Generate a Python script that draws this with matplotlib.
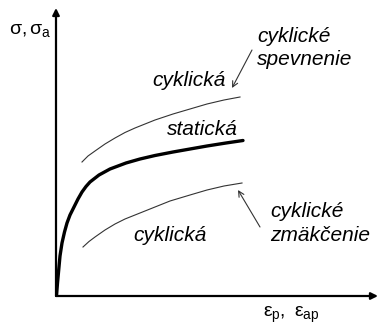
import matplotlib
matplotlib.use("Agg")
import matplotlib.pyplot as plt

plt.rcParams['font.family'] = ['Liberation Sans', 'DejaVu Sans']
plt.rcParams['mathtext.fontset'] = 'custom'
plt.rcParams['mathtext.rm'] = 'Liberation Sans'
plt.rcParams['mathtext.it'] = 'Liberation Sans:italic'

#### data (arbitrary units)
static_x = [0.5, 1.5, 2.7, 4, 6, 8.5, 11, 14, 18, 22, 26, 30, 34, 43, 54, 70, 84, 99, 117, 134, 151, 170, 187]
static_y = [0, 13, 26, 40, 53, 64, 73, 81, 89, 97, 104, 109.5, 114, 121, 127, 133, 137, 140.5, 144, 147, 150, 153, 155.5]

hard_x = [26, 32, 39, 49, 59, 69, 79, 89, 99, 108, 117, 134, 151, 168, 184]
hard_y = [134, 140, 145, 152, 158, 163.5, 168, 172, 176, 179, 182, 187, 192, 196, 199]

soft_x = [27, 33, 39, 49, 59, 69, 79, 89, 99, 114, 134, 151, 168, 186]
soft_y = [49, 54.5, 59, 66, 72, 77, 81, 85, 89, 95, 101, 106, 110, 113]

curve_labels = ["cyklická", "statická", "cyklická"]
hard_note = ["cyklické", "spevnenie"]
soft_note = ["cyklické", "zmäkčenie"]
y_label = r"$\mathrm{\sigma,\sigma_a}$"
x_label = r"$\mathrm{\varepsilon_p,\ \varepsilon_{ap}}$"

####
fig = plt.figure(figsize=(3.79, 3.27), dpi=100)
ax = fig.add_axes([56 / 379, 31 / 327, 323 / 379, 296 / 327])
ax.set_xlim(0, 323)
ax.set_ylim(0, 296)
ax.axis('off')

# axes with arrows
ax.annotate("", xy=(0, 288), xytext=(0, 0),
            arrowprops=dict(arrowstyle="-|>", lw=1.6, color="black",
                            mutation_scale=10, shrinkA=0, shrinkB=0))
ax.annotate("", xy=(322, 0), xytext=(0, 0),
            arrowprops=dict(arrowstyle="-|>", lw=1.6, color="black",
                            mutation_scale=10, shrinkA=0, shrinkB=0))

ax.plot(static_x, static_y, color="black", lw=2.4,
        solid_capstyle="round", solid_joinstyle="round")
ax.plot(hard_x, hard_y, color="#333333", lw=0.8, solid_joinstyle="round")
ax.plot(soft_x, soft_y, color="#333333", lw=0.8, solid_joinstyle="round")

fs = 15
ax.text(96, 210, curve_labels[0], style="italic", fontsize=fs, va="baseline")
ax.text(111, 161, curve_labels[1], style="italic", fontsize=fs, va="baseline")
ax.text(77, 55, curve_labels[2], style="italic", fontsize=fs, va="baseline")

ax.text(201, 254, hard_note[0], style="italic", fontsize=fs, va="baseline")
ax.text(201, 231, hard_note[1], style="italic", fontsize=fs, va="baseline")
ax.text(214, 79, soft_note[0], style="italic", fontsize=fs, va="baseline")
ax.text(214, 55, soft_note[1], style="italic", fontsize=fs, va="baseline")

ax.annotate("", xy=(176, 208), xytext=(196, 246),
            arrowprops=dict(arrowstyle="->", lw=0.8, color="#333333",
                            shrinkA=0, shrinkB=0))
ax.annotate("", xy=(182, 106), xytext=(204, 69),
            arrowprops=dict(arrowstyle="->", lw=0.8, color="#333333",
                            shrinkA=0, shrinkB=0))

ax.text(-47, 262, y_label, fontsize=14, va="baseline", clip_on=False)
ax.text(207, -21, x_label, fontsize=14, va="baseline", clip_on=False)

fig.savefig("out.png", dpi=100)
